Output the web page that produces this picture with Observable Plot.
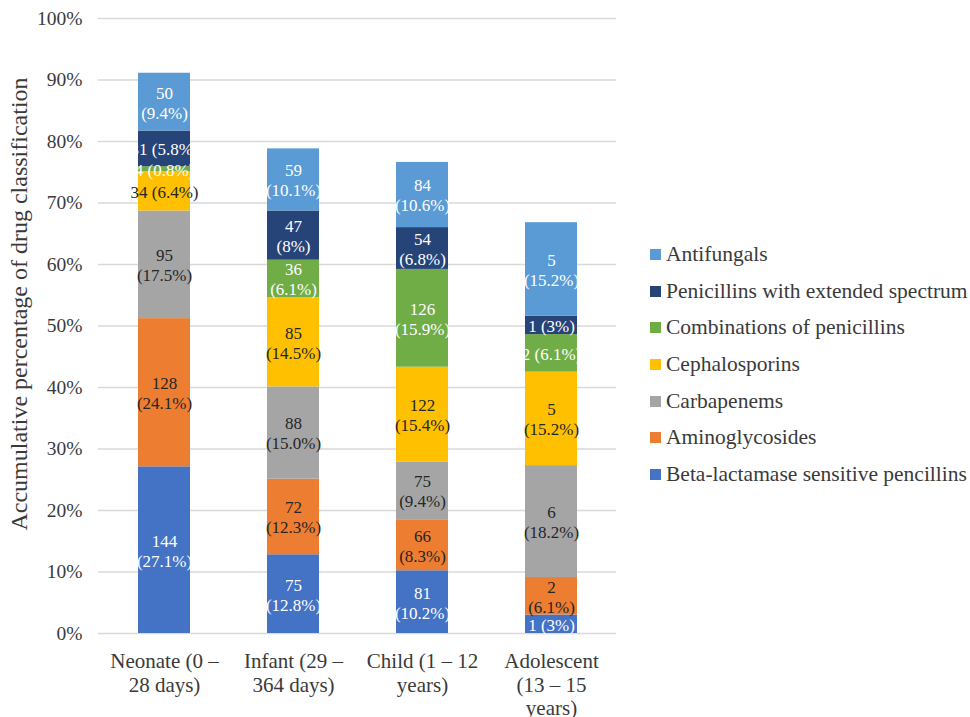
<!DOCTYPE html>
<html>
<head>
<meta charset="utf-8">
<script src="https://cdn.jsdelivr.net/npm/d3@7"></script>
<script src="https://cdn.jsdelivr.net/npm/@observablehq/plot@0.6"></script>
<style>
  html, body { margin: 0; padding: 0; background: #fff; }
  #wrap { position: relative; width: 970px; height: 717px; font-family: "Liberation Serif", "Times New Roman", serif; }
  #legend { position: absolute; left: 650px; top: 236px; }
  .item { height: 36.7px; display: flex; align-items: center; font-size: 21.5px; color: #3a3a3a; white-space: nowrap; }
  .sw { width: 11px; height: 11px; margin-right: 5px; flex: none; }
</style>
</head>
<body>
<div id="wrap"><div id="chart"></div><div id="legend"></div></div>
<script>
const categories = ["Neonate (0 – 28 days)", "Infant (29 – 364 days)", "Child (1 – 12 years)", "Adolescent (13 – 15 years)"];
const categoryLines = ["Neonate (0 –\n28 days)", "Infant (29 –\n364 days)", "Child (1 – 12\nyears)", "Adolescent\n(13 – 15\nyears)"];
const seriesNames = ["Beta-lactamase sensitive pencillins", "Aminoglycosides", "Carbapenems", "Cephalosporins", "Combinations of penicillins", "Penicillins with extended spectrum", "Antifungals"];
const seriesColors = ["#4472c4", "#ed7d31", "#a5a5a5", "#ffc000", "#70ad47", "#264478", "#5b9bd5"];
const labelColors = ["#ffffff", "#262626", "#262626", "#262626", "#ffffff", "#ffffff", "#ffffff"];

// percentages per series (Neonate, Infant, Child, Adolescent)
const betaLactamase   = [27.1, 12.8, 10.2, 3.0];
const aminoglycosides = [24.1, 12.3, 8.3, 6.1];
const carbapenems     = [17.5, 15.0, 9.4, 18.2];
const cephalosporins  = [6.4, 14.5, 15.4, 15.2];
const combinations    = [0.8, 6.1, 15.9, 6.1];
const penExtended     = [5.8, 8.0, 6.8, 3.0];
const antifungals     = [9.4, 10.1, 10.6, 15.2];

// data labels per series
const betaLabels   = ["144\n(27.1%)", "75\n(12.8%)", "81\n(10.2%)", "1 (3%)"];
const aminoLabels  = ["128\n(24.1%)", "72\n(12.3%)", "66\n(8.3%)", "2\n(6.1%)"];
const carbaLabels  = ["95\n(17.5%)", "88\n(15.0%)", "75\n(9.4%)", "6\n(18.2%)"];
const cephLabels   = ["34 (6.4%)", "85\n(14.5%)", "122\n(15.4%)", "5\n(15.2%)"];
const combLabels   = ["4 (0.8%)", "36\n(6.1%)", "126\n(15.9%)", "2 (6.1%)"];
const penExtLabels = ["31 (5.8%)", "47\n(8%)", "54\n(6.8%)", "1 (3%)"];
const antiLabels   = ["50\n(9.4%)", "59\n(10.1%)", "84\n(10.6%)", "5\n(15.2%)"];

const yTicks = [0, 0.1, 0.2, 0.3, 0.4, 0.5, 0.6, 0.7, 0.8, 0.9, 1.0];
const yTitle = "Accumulative percentage of drug classification";

const values = [betaLactamase, aminoglycosides, carbapenems, cephalosporins, combinations, penExtended, antifungals];
const labels = [betaLabels, aminoLabels, carbaLabels, cephLabels, combLabels, penExtLabels, antiLabels];

const rows = [];
seriesNames.forEach((s, i) => {
  categories.forEach((c, j) => {
    rows.push({category: c, series: s, value: values[i][j] / 100, label: labels[i][j], textColor: labelColors[i]});
  });
});

const lineMap = new Map(categories.map((c, i) => [c, categoryLines[i]]));
const serif = "'Liberation Serif', 'Times New Roman', serif";

const chart = Plot.plot({
  width: 970,
  height: 717,
  marginLeft: 98,
  marginRight: 354,
  marginTop: 18,
  marginBottom: 84,
  style: {fontFamily: serif, color: "#3a3a3a", background: "#fff"},
  x: {domain: categories, paddingInner: 0.6, paddingOuter: 0.3, label: null},
  y: {domain: [0, 1], label: null},
  color: {domain: seriesNames, range: seriesColors},
  marks: [
    Plot.gridY(yTicks, {stroke: "#d9d9d9", strokeOpacity: 1, strokeWidth: 1.6}),
    Plot.barY(rows, {x: "category", y: "value", z: "series", fill: "series", order: seriesNames}),
    Plot.text(rows, Plot.stackY({x: "category", y: "value", z: "series", order: seriesNames, text: "label", fill: "textColor", fontSize: 17, lineHeight: 1.18})),
    Plot.axisY(yTicks, {tickSize: 0, tickPadding: 16, fontSize: 19.5, tickFormat: d => Math.round(d * 100) + "%", label: null, fill: "#3a3a3a"}),
    Plot.axisX({tickSize: 0, tickPadding: 18, fontSize: 21, lineHeight: 1.12, tickFormat: d => lineMap.get(d), label: null, fill: "#3a3a3a"}),
    Plot.text([yTitle], {frameAnchor: "left", textAnchor: "middle", rotate: -90, dx: -79, dy: -22, fontSize: 24, fill: "#3a3a3a"})
  ]
});
document.getElementById("chart").appendChild(chart);

const legend = document.getElementById("legend");
for (let i = seriesNames.length - 1; i >= 0; i--) {
  const item = document.createElement("div");
  item.className = "item";
  const sw = document.createElement("span");
  sw.className = "sw";
  sw.style.background = seriesColors[i];
  const t = document.createElement("span");
  t.textContent = seriesNames[i];
  item.appendChild(sw);
  item.appendChild(t);
  legend.appendChild(item);
}
</script>
</body>
</html>
